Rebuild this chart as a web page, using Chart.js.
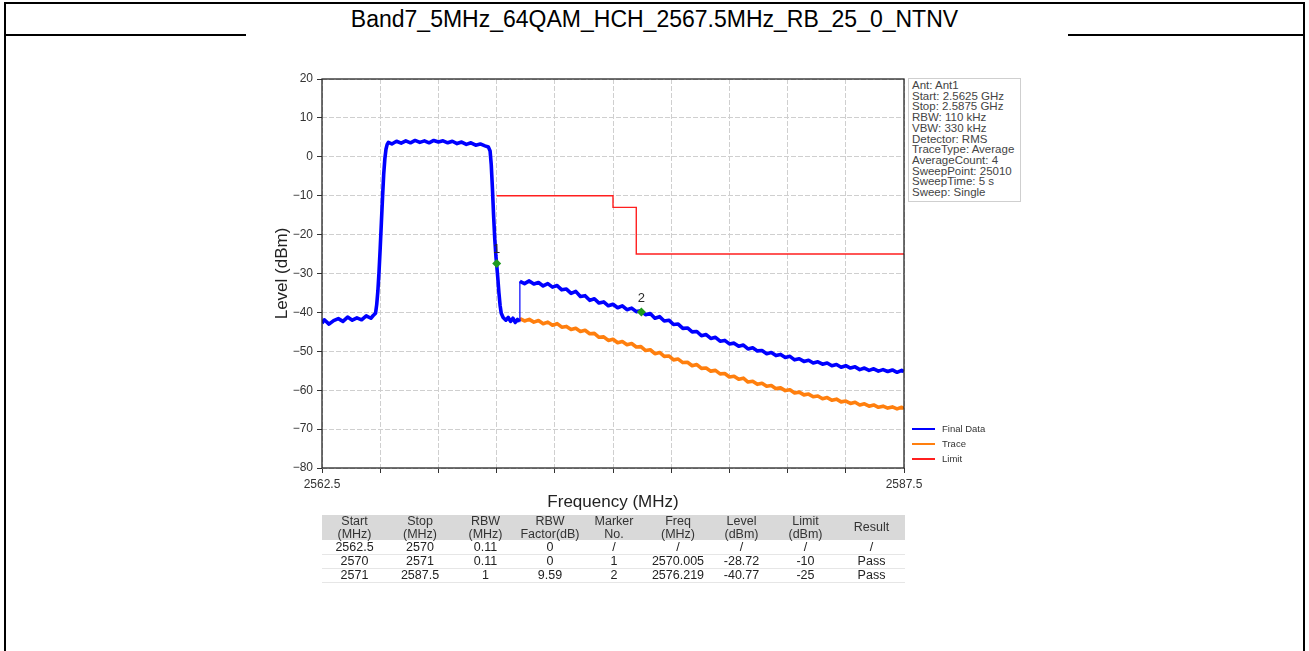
<!DOCTYPE html>
<html>
<head>
<meta charset="utf-8">
<script src="https://cdn.jsdelivr.net/npm/chart.js@4.4.1/dist/chart.umd.min.js"></script>
<style>
html,body{margin:0;padding:0;background:#fff;}
body{width:1309px;height:651px;position:relative;overflow:hidden;font-family:"Liberation Sans",Arial,sans-serif;}
#frame{position:absolute;left:4px;top:2px;width:1297px;height:700px;border-top:2px solid #000;border-left:2px solid #000;border-right:2px solid #000;}
#hline{position:absolute;left:4px;top:34px;width:1301px;height:2px;background:#000;}
#shot{position:absolute;left:246px;top:30px;width:822px;height:640px;background:#fff;}
#title{position:absolute;left:0;width:1309px;top:5px;height:29px;line-height:29px;text-align:center;font-size:23px;color:#000;white-space:nowrap;}
#chart{position:absolute;left:0;top:0;}
#info{position:absolute;left:908px;top:78px;width:108px;padding:1px 0 3px 3px;border:1px solid #cfcfcf;font-size:11.5px;line-height:10.7px;color:#444;white-space:nowrap;background:#fff;}
.lg{position:absolute;height:15px;}
.lg .ln{position:absolute;left:0;top:7px;width:23px;height:1.6px;}
.lg .tx{position:absolute;left:30px;top:0;line-height:15px;font-size:9.5px;color:#333;white-space:nowrap;}
#tbl{position:absolute;left:322px;top:515px;width:583px;border-collapse:collapse;table-layout:fixed;font-size:12.5px;color:#222;}
#tbl th{background:#d9d9d9;font-weight:normal;color:#333;line-height:12.5px;height:25px;padding:0;text-align:center;vertical-align:middle;}
#tbl td{height:13px;line-height:13px;padding:0;text-align:center;border-bottom:1px solid #e6e6e6;}
#tbl tr:nth-child(2) td{padding-top:1px;}
</style>
</head>
<body>
<div id="frame"></div>
<div id="hline"></div>
<div id="shot"></div>
<div id="title"></div>
<canvas id="chart" width="1309" height="651"></canvas>
<div id="info"></div>
<div id="legend"></div>
<table id="tbl"></table>
<script>
// ---------- text ----------
const chartTitle = "Band7_5MHz_64QAM_HCH_2567.5MHz_RB_25_0_NTNV";
const xTitle = "Frequency (MHz)";
const yTitle = "Level (dBm)";
const infoLines = ["Ant: Ant1","Start: 2.5625 GHz","Stop: 2.5875 GHz","RBW: 110 kHz","VBW: 330 kHz","Detector: RMS","TraceType: Average","AverageCount: 4","SweepPoint: 25010","SweepTime: 5 s","Sweep: Single"];
const seriesNames = ["Final Data","Trace","Limit"];
const seriesColors = ["#0000ff","#ff7f0e","#ff1f1f"];

// ---------- axes ----------
const xMin = 2562.5, xMax = 2587.5, xStep = 2.5;
const yMin = -80, yMax = 20, yStep = 10;

// ---------- Final Data (in-band part, 2562.5 .. 2570.98 MHz) ----------
const headFreq = [
  2562.5,2562.6,2562.8,2563.0,2563.2,2563.4,2563.6,2563.8,2564.0,2564.2,2564.4,2564.6,2564.7,2564.8,
  2564.85,2564.9,2564.95,2565.0,2565.05,2565.1,2565.15,2565.2,2565.25,2565.3,2565.35,
  2565.5,2565.7,2565.9,2566.1,2566.3,2566.5,2566.7,2566.9,2567.1,2567.3,2567.5,2567.7,2567.9,2568.1,2568.3,2568.5,2568.7,2568.9,2569.1,2569.3,2569.5,2569.65,2569.72,
  2569.77,2569.82,2569.87,2569.92,2569.97,2570.0,2570.05,2570.1,2570.15,2570.2,2570.28,
  2570.4,2570.5,2570.6,2570.7,2570.8,2570.9,2570.98
];
const headLevel = [
  -42.8,-41.9,-43.0,-42.1,-41.6,-42.3,-41.2,-42.0,-41.4,-41.9,-40.9,-41.5,-40.8,-40.2,
  -38,-34.5,-29.5,-23.5,-17,-10.5,-4.5,-0.5,2.0,3.2,3.7,
  3.3,4.0,3.5,4.1,3.6,4.2,3.7,4.1,3.6,4.2,3.8,4.1,3.6,4.0,3.4,3.8,3.2,3.6,3.0,3.3,2.8,2.5,1.5,
  -2,-8,-15,-21,-25.5,-27.5,-31,-35,-38.2,-40.2,-41.3,
  -42.0,-41.3,-42.3,-41.5,-42.6,-41.8,-42.4
];

// ---------- out-of-band part, 2571 .. 2587.5 MHz ----------
const tailFreq = [
  2571.0,2571.2,2571.4,2571.6,2571.8,2572.0,2572.2,2572.4,2572.6,2572.8,
  2573.0,2573.2,2573.4,2573.6,2573.8,2574.0,2574.2,2574.4,2574.6,2574.8,
  2575.0,2575.2,2575.4,2575.6,2575.8,2576.0,2576.2,2576.4,2576.6,2576.8,
  2577.0,2577.2,2577.4,2577.6,2577.8,2578.0,2578.2,2578.4,2578.6,2578.8,
  2579.0,2579.2,2579.4,2579.6,2579.8,2580.0,2580.2,2580.4,2580.6,2580.8,
  2581.0,2581.2,2581.4,2581.6,2581.8,2582.0,2582.2,2582.4,2582.6,2582.8,
  2583.0,2583.2,2583.4,2583.6,2583.8,2584.0,2584.2,2584.4,2584.6,2584.8,
  2585.0,2585.2,2585.4,2585.6,2585.8,2586.0,2586.2,2586.4,2586.6,2586.8,
  2587.0,2587.2,2587.4,2587.5
];
const finalTailLevel = [
  -32.0,-32.6,-31.9,-32.7,-32.3,-33.2,-32.6,-33.5,-33.1,-34.2,
  -34.0,-35.1,-34.6,-35.9,-35.7,-36.9,-36.5,-37.6,-37.3,-38.3,
  -37.9,-38.8,-38.3,-39.3,-38.9,-39.8,-39.6,-40.6,-40.3,-41.5,
  -41.1,-42.2,-42.0,-43.1,-43.0,-44.1,-44.0,-45.0,-44.9,-46.0,
  -45.7,-46.7,-46.4,-47.4,-47.2,-48.1,-47.9,-48.7,-48.4,-49.4,
  -49.1,-49.9,-49.8,-50.6,-50.3,-51.1,-50.8,-51.6,-51.3,-52.2,
  -51.9,-52.6,-52.3,-53.0,-52.7,-53.3,-53.0,-53.7,-53.4,-54.1,
  -53.7,-54.3,-54.0,-54.7,-54.3,-54.9,-54.5,-55.1,-54.7,-55.2,
  -54.8,-55.4,-54.9,-55.2
];
const traceTailLevel = [
  -41.6,-42.2,-41.8,-42.5,-42.1,-42.9,-42.5,-43.3,-42.9,-43.8,
  -43.6,-44.4,-44.1,-44.9,-44.6,-45.5,-45.4,-46.4,-46.3,-47.2,
  -46.9,-47.8,-47.5,-48.3,-48.0,-48.9,-48.8,-49.8,-49.6,-50.6,
  -50.3,-51.3,-51.2,-52.2,-52.0,-52.9,-52.8,-53.7,-53.4,-54.4,
  -54.3,-55.1,-54.9,-55.8,-55.7,-56.6,-56.4,-57.2,-56.9,-57.9,
  -57.7,-58.5,-58.2,-59.0,-58.8,-59.6,-59.4,-60.1,-59.9,-60.7,
  -60.5,-61.2,-61.0,-61.7,-61.5,-62.2,-61.9,-62.6,-62.3,-63.0,
  -62.8,-63.4,-63.1,-63.8,-63.5,-64.1,-63.8,-64.4,-64.1,-64.6,
  -64.3,-64.8,-64.4,-64.7
];

// ---------- limit ----------
const limitFreq = [2570, 2575, 2575, 2576, 2576, 2587.5];
const limitLevel = [-10, -10, -13, -13, -25, -25];

// ---------- markers ----------
const markerNo = ["1", "2"];
const markerFreq = [2570.005, 2576.219];
const markerLevel = [-27.4, -39.9];

// ---------- table ----------
const tableHeader = [["Start","(MHz)"],["Stop","(MHz)"],["RBW","(MHz)"],["RBW","Factor(dB)"],["Marker","No."],["Freq","(MHz)"],["Level","(dBm)"],["Limit","(dBm)"],["Result"]];
const colStart  = ["2562.5","2570","2571"];
const colStop   = ["2570","2571","2587.5"];
const colRbw    = ["0.11","0.11","1"];
const colFactor = ["0","0","9.59"];
const colMarker = ["/","1","2"];
const colFreq   = ["/","2570.005","2576.219"];
const colLevel  = ["/","-28.72","-40.77"];
const colLimit  = ["/","-10","-25"];
const colResult = ["/","Pass","Pass"];
const colWidths = [65,66,65,64,64,64,63,65,67];

// ---------- html parts ----------
document.getElementById('title').textContent = chartTitle;
document.getElementById('info').innerHTML = infoLines.map(s => '<div>' + s + '</div>').join('');
const legendTop = [421, 436, 451];
document.getElementById('legend').innerHTML = seriesNames.map((n, i) =>
  '<div class="lg" style="left:912px;top:' + legendTop[i] + 'px"><div class="ln" style="background:' + seriesColors[i] + '"></div><div class="tx">' + n + '</div></div>'
).join('');
const cols = [colStart,colStop,colRbw,colFactor,colMarker,colFreq,colLevel,colLimit,colResult];
let th = '<colgroup>' + colWidths.map(w => '<col style="width:' + w + 'px">').join('') + '</colgroup><tr>' +
  tableHeader.map(h => '<th>' + h.join('<br>') + '</th>').join('') + '</tr>';
for (let r = 0; r < colStart.length; r++) {
  th += '<tr>' + cols.map(c => '<td>' + c[r] + '</td>').join('') + '</tr>';
}
document.getElementById('tbl').innerHTML = th;

// ---------- chart ----------
const pts = (fx, fy) => fx.map((f, i) => ({x: f, y: fy[i]}));
const finalData = pts(headFreq.concat(tailFreq), headLevel.concat(finalTailLevel));
const traceData = pts(tailFreq, traceTailLevel);
const limitData = pts(limitFreq, limitLevel);
const markerData = pts(markerFreq, markerLevel);
const jumpFreq = tailFreq[0];

const FONT = '"Liberation Sans", Arial, sans-serif';

const framePlugin = {
  id: 'frame',
  afterDatasetsDraw(chart) {
    const {ctx, chartArea: a, scales} = chart;
    ctx.save();
    ctx.strokeStyle = '#262626';
    ctx.lineWidth = 1.3;
    ctx.strokeRect(a.left, a.top, a.right - a.left, a.bottom - a.top);
    ctx.fillStyle = '#2a2a2a';
    ctx.font = '13px ' + FONT;
    ctx.textAlign = 'center';
    ctx.textBaseline = 'middle';
    markerNo.forEach((m, i) => {
      const px = scales.x.getPixelForValue(markerFreq[i]);
      const py = scales.y.getPixelForValue(markerLevel[i]);
      ctx.fillText(m, px, py - 14);
    });
    ctx.restore();
  }
};

new Chart(document.getElementById('chart'), {
  type: 'line',
  data: {
    datasets: [
      {label: 'Markers', data: markerData, showLine: false, pointStyle: 'rectRot', pointRadius: 4.5,
       pointBackgroundColor: '#1f9a1f', pointBorderColor: '#1f9a1f', borderWidth: 0},
      {label: seriesNames[0], data: finalData, borderColor: seriesColors[0], borderWidth: 3.6, pointRadius: 0, tension: 0,
       borderJoinStyle: 'round',
       segment: {borderWidth: c => (c.p1.parsed.x === jumpFreq ? 1.2 : 3.6)}},
      {label: seriesNames[1], data: traceData, borderColor: seriesColors[1], borderWidth: 3.6, pointRadius: 0, tension: 0,
       borderJoinStyle: 'round'},
      {label: seriesNames[2], data: limitData, borderColor: seriesColors[2], borderWidth: 1.4, pointRadius: 0, tension: 0}
    ]
  },
  options: {
    responsive: false,
    animation: false,
    devicePixelRatio: 1,
    layout: {padding: {left: 272, right: 405, top: 79, bottom: 138}},
    plugins: {legend: {display: false}, tooltip: {enabled: false}},
    scales: {
      x: {
        type: 'linear', min: xMin, max: xMax,
        afterFit: s => { s.height = 45; },
        ticks: {
          stepSize: xStep, maxRotation: 0, autoSkip: false, padding: 4,
          color: '#333', font: {family: FONT, size: 12},
          callback: v => (Math.abs(v - xMin) < 1e-6 || Math.abs(v - xMax) < 1e-6) ? String(v) : ''
        },
        grid: {color: '#cfcfcf', lineWidth: 1, tickLength: 5, tickColor: '#333', tickWidth: 1},
        border: {display: false, dash: [5, 2]},
        title: {display: true, text: xTitle, color: '#222', font: {family: FONT, size: 17}, padding: 0}
      },
      y: {
        type: 'linear', min: yMin, max: yMax,
        afterFit: s => { s.width = 50; },
        ticks: {
          stepSize: yStep, padding: 4, color: '#333', font: {family: FONT, size: 12},
          callback: v => (v < 0 ? '\u2212' : '') + Math.abs(v)
        },
        grid: {color: '#cfcfcf', lineWidth: 1, tickLength: 5, tickColor: '#333', tickWidth: 1},
        border: {display: false, dash: [5, 2]},
        title: {display: true, text: yTitle, color: '#222', font: {family: FONT, size: 17}, padding: 0}
      }
    }
  },
  plugins: [framePlugin]
});
</script>
</body>
</html>
